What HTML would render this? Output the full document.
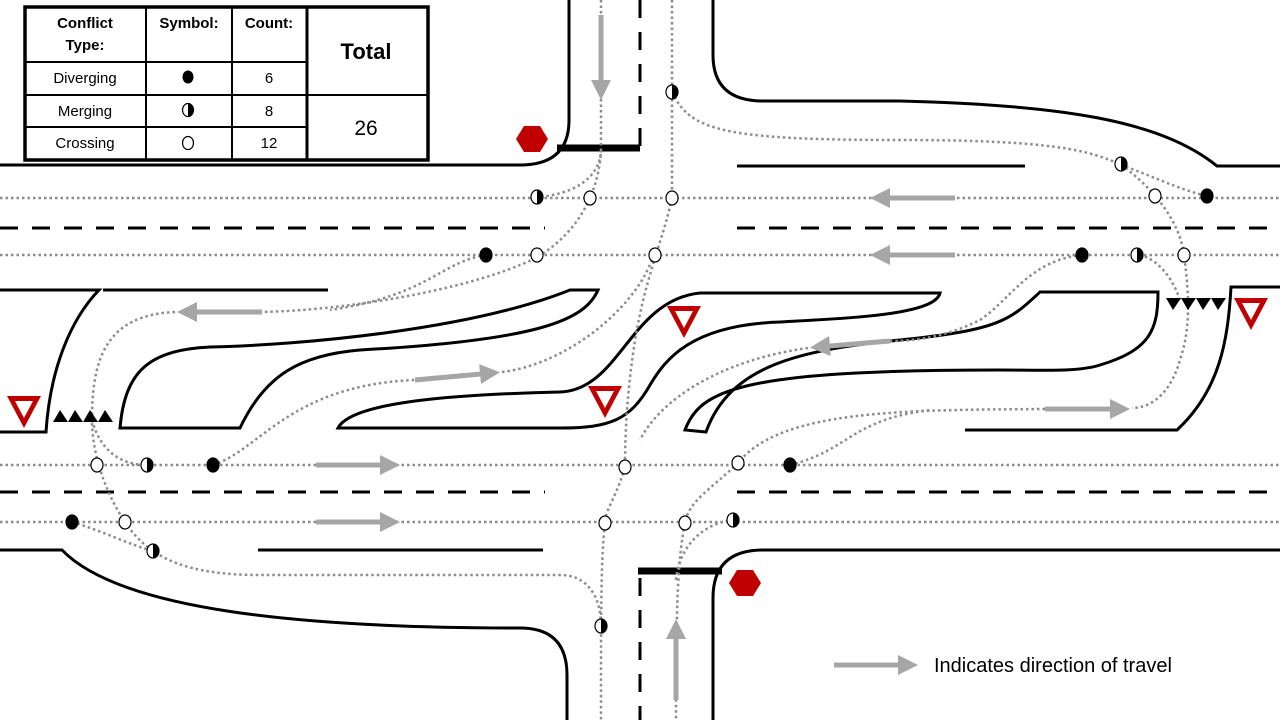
<!DOCTYPE html>
<html><head><meta charset="utf-8"><style>
html,body{margin:0;padding:0;background:#fff;}
svg{display:block;font-family:"Liberation Sans",sans-serif;}
</style></head><body>
<svg width="1280" height="720" viewBox="0 0 1280 720" xmlns="http://www.w3.org/2000/svg">
<defs>
<marker id="ah" viewBox="0 0 10 10" refX="6" refY="5" markerWidth="4" markerHeight="4" orient="auto"><path d="M0,0 L10,5 L0,10 z" fill="#a6a6a6"/></marker>
</defs>
<g fill="none" stroke="#000" stroke-width="3">
<path d="M0,165 H520 Q569,165 569,120 V0"/>
<path d="M713,0 V55 Q713,101 763,101 H900 C1060,105 1160,120 1217,166 H1280"/>
<path d="M737,166 H1025"/>
<path d="M0,550 H62 C120,610 300,628 520,628 Q567,628 567,675 V720"/>
<path d="M713,720 V598 Q713,550 763,550 H1280"/>
<path d="M258,550 H543"/>
<path d="M0,290 H99 C70,320 50,370 46,432 H0"/>
<path d="M103,290 H328"/>
<path d="M1280,287 H1231 C1228,340 1220,390 1177,430 H965"/>
<path d="M120,428 C125,370 150,350 210,347 C300,345 470,330 570,290 H598 C585,320 540,340 360,350 C300,355 265,375 240,428 Z"/>
<path d="M338,428 C350,405 430,395 560,392 C620,390 630,300 700,293 H940 C935,315 850,318 780,322 C690,325 665,360 650,385 C630,420 610,428 560,428 Z"/>
<path d="M685,430 C700,390 740,370 1000,370 C1040,370 1080,372 1100,365 C1150,350 1158,330 1158,292 H1040 C1010,320 1000,330 900,340 C800,350 730,365 706,432 Z"/>
</g>
<g stroke="#000" stroke-width="3" stroke-dasharray="18 14">
<path d="M0,228 H545 M737,228 H1280 M0,492 H545 M737,492 H1280"/>
<path d="M640,0 V148 M640,578 V720"/>
</g>
<path d="M557,148 H640 M638,571 H722" stroke="#000" stroke-width="7"/>
<g fill="none" stroke="#8c8c8c" stroke-width="2.5" stroke-dasharray="2.5 3">
<path d="M0,198 H1280 M0,255 H1280 M0,465 H1280 M0,522 H1280"/>
<path d="M601,0 V150 C600,180 570,195 537,197"/>
<path d="M601,150 C598,210 560,250 520,265 C460,290 350,310 262,312"/>
<path d="M486,255 C440,262 430,295 330,310"/>
<path d="M175,312 C105,315 92,360 92,420 C92,460 110,500 125,522 C150,560 190,575 260,575 H560 C590,575 601,600 601,626"/>
<path d="M92,420 C100,450 120,465 147,465"/>
<path d="M72,522 C100,530 130,545 153,551"/>
<path d="M213,465 C260,450 290,385 415,380"/>
<path d="M502,372 C560,365 620,320 645,275 C650,265 652,260 655,255"/>
<path d="M672,0 V198 C665,230 655,255 650,275 C630,340 625,420 625,465 C620,490 605,510 605,522 C601,560 601,600 601,720"/>
<path d="M672,92 C690,130 720,140 900,140 C1050,140 1090,150 1121,165 C1150,175 1180,190 1207,196"/>
<path d="M1121,165 C1150,185 1180,220 1184,255 C1190,300 1190,330 1180,360 C1170,395 1150,408 1132,408"/>
<path d="M1180,300 C1170,270 1150,255 1137,255"/>
<path d="M1082,255 C1030,260 1010,300 980,320 C950,335 920,341 890,341"/>
<path d="M808,348 C720,360 660,400 640,440"/>
<path d="M1045,409 C900,410 780,410 738,463 C710,490 690,500 685,522 C678,560 676,600 676,720"/>
<path d="M790,465 C850,450 850,420 930,410"/>
<path d="M676,580 C680,540 710,522 733,520"/>
</g>
<g stroke="#a6a6a6" stroke-width="5" marker-end="url(#ah)" fill="none">
<path d="M262,312 H185"/>
<path d="M415,380 L492,373"/>
<path d="M955,198 H878"/>
<path d="M955,255 H878"/>
<path d="M890,341 L818,347"/>
<path d="M1045,409 H1122"/>
<path d="M316,465 H392"/>
<path d="M316,522 H392"/>
<path d="M601,15 V92"/>
<path d="M676,700 V627"/>
<path d="M834,665 H910"/>
</g>
<g fill="#c00000">
<path d="M7,396 H41 L24,428 Z M15,401 L24,418 L33,401 Z" fill-rule="evenodd"/>
<path d="M667,306 H701 L684,338 Z M675,311 L684,328 L693,311 Z" fill-rule="evenodd"/>
<path d="M588,386 H622 L605,418 Z M596,391 L605,408 L614,391 Z" fill-rule="evenodd"/>
<path d="M1234,298 H1268 L1251,330 Z M1242,303 L1251,320 L1260,303 Z" fill-rule="evenodd"/>
<polygon points="524,126 540,126 548,139 540,152 524,152 516,139"/>
<polygon points="737,570 753,570 761,583 753,596 737,596 729,583"/>
</g>
<g fill="#000">
<path d="M53,422 L60,410 L68,422 Z M68,422 L75,410 L83,422 Z M83,422 L90,410 L98,422 Z M98,422 L105,410 L113,422 Z"/>
<path d="M1166,298 L1173,310 L1181,298 Z M1181,298 L1188,310 L1196,298 Z M1196,298 L1203,310 L1211,298 Z M1211,298 L1218,310 L1226,298 Z"/>
</g>
<g stroke="#000" stroke-width="1.2">
<g fill="#000">
<ellipse cx="486" cy="255" rx="6" ry="7"/><ellipse cx="213" cy="465" rx="6" ry="7"/><ellipse cx="72" cy="522" rx="6" ry="7"/>
<ellipse cx="790" cy="465" rx="6" ry="7"/><ellipse cx="1082" cy="255" rx="6" ry="7"/><ellipse cx="1207" cy="196" rx="6" ry="7"/>
</g>
<g fill="#fff">
<ellipse cx="590" cy="198" rx="6" ry="7"/><ellipse cx="537" cy="255" rx="6" ry="7"/><ellipse cx="672" cy="198" rx="6" ry="7"/>
<ellipse cx="655" cy="255" rx="6" ry="7"/><ellipse cx="1155" cy="196" rx="6" ry="7"/><ellipse cx="1184" cy="255" rx="6" ry="7"/>
<ellipse cx="97" cy="465" rx="6" ry="7"/><ellipse cx="125" cy="522" rx="6" ry="7"/><ellipse cx="625" cy="467" rx="6" ry="7"/>
<ellipse cx="605" cy="523" rx="6" ry="7"/><ellipse cx="738" cy="463" rx="6" ry="7"/><ellipse cx="685" cy="523" rx="6" ry="7"/>
</g>
</g>
<g>
<g id="hm"><ellipse cx="0" cy="0" rx="6" ry="7" fill="#fff" stroke="#000" stroke-width="1.2"/><path d="M0,-7 A6,7 0 0 1 0,7 Z" fill="#000"/></g>
</g>
<use href="#hm" x="537" y="197"/><use href="#hm" x="672" y="92"/><use href="#hm" x="1121" y="164"/>
<use href="#hm" x="1137" y="255"/><use href="#hm" x="147" y="465"/><use href="#hm" x="153" y="551"/>
<use href="#hm" x="601" y="626"/><use href="#hm" x="733" y="520"/>
<rect x="0" y="0" width="440" height="162" fill="#fff"/>
<g stroke="#000" fill="none">
<rect x="25" y="7" width="403" height="153" stroke-width="3.5"/>
<path d="M146,7 V160 M232,7 V160" stroke-width="2"/>
<path d="M307,7 V160" stroke-width="3"/>
<path d="M25,62 H307 M25,127 H307" stroke-width="2"/>
<path d="M25,95 H428" stroke-width="2"/>
</g>
<g font-size="15" text-anchor="middle" fill="#000">
<text x="85" y="28" font-weight="bold">Conflict</text>
<text x="85" y="50" font-weight="bold">Type:</text>
<text x="189" y="28" font-weight="bold">Symbol:</text>
<text x="269" y="28" font-weight="bold">Count:</text>
<text x="85" y="83">Diverging</text>
<text x="85" y="116">Merging</text>
<text x="85" y="148">Crossing</text>
<text x="269" y="83">6</text><text x="269" y="116">8</text><text x="269" y="148">12</text>
<text x="366" y="59" font-size="22" font-weight="bold">Total</text>
<text x="366" y="135" font-size="21">26</text>
</g>
<ellipse cx="188" cy="77" rx="5.5" ry="6.5" fill="#000"/>
<g transform="translate(188,110)"><ellipse cx="0" cy="0" rx="5.5" ry="6.5" fill="#fff" stroke="#000" stroke-width="1.2"/><path d="M0,-6.5 A5.5,6.5 0 0 1 0,6.5 Z" fill="#000"/></g>
<ellipse cx="188" cy="143" rx="5.5" ry="6.5" fill="#fff" stroke="#000" stroke-width="1.2"/>
<text x="934" y="672" font-size="20" fill="#000">Indicates direction of travel</text>
</svg>
</body></html>
